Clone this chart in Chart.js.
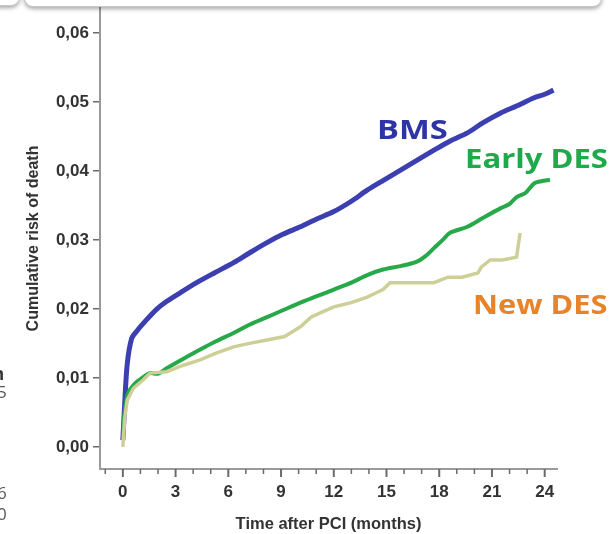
<!DOCTYPE html>
<html>
<head>
<meta charset="utf-8">
<script src="https://cdn.jsdelivr.net/npm/chart.js@4.4.1/dist/chart.umd.min.js"></script>
<style>
  html, body { margin: 0; padding: 0; background: #fff; }
  #wrap { position: relative; width: 615px; height: 534px; overflow: hidden; background: #fff; }
  canvas { position: absolute; left: 0; top: 0; }
  .box { position: absolute; background: #fff; border: 1px solid #c8c8c8; border-radius: 9px; box-shadow: 0 2px 4px rgba(0,0,0,0.35); }
  .lbl { position: absolute; font-family: "Open Sans", sans-serif; font-weight: 700; font-size: 27px; white-space: nowrap; transform-origin: left top; }
  .frag { position: absolute; font-family: "Open Sans", sans-serif; font-size: 17px; color: #555; }
</style>
</head>
<body>
<div id="wrap">
  <canvas id="c" width="615" height="534"></canvas>
  <div class="box" style="left:-40px; top:-30px; width:58px; height:34px;"></div>
  <div class="box" style="left:24px; top:-30px; width:576px; height:35px;"></div>
  <div class="lbl" style="left:377px; top:110px; color:#2e33a6; transform:scaleX(1.21);">BMS</div>
  <div class="lbl" style="left:465px; top:139px; color:#1eaa4b; transform:scaleX(1.15);">Early DES</div>
  <div class="lbl" style="left:473px; top:285px; color:#e8832a; transform:scaleX(1.14);">New DES</div>
  <div class="frag" style="left:-7px; top:362px; font-weight:700; color:#333;">n</div>
  <div class="frag" style="left:-3px; top:380px;">5</div>
  <div class="frag" style="left:-3px; top:481px;">6</div>
  <div class="frag" style="left:-3px; top:502px;">0</div>
</div>
<script>
// ---- data ----
const xTickLabels = [0, 3, 6, 9, 12, 15, 18, 21, 24];
const yTickLabels = ["0,00", "0,01", "0,02", "0,03", "0,04", "0,05", "0,06"];

const bmsMonths = [0, 0.1, 0.25, 0.5, 0.8, 1.2, 1.9, 2.5, 3.3, 4.2, 5.2, 6.3, 7.2, 8.2, 9.1, 10.1, 11.0, 12.0, 13.0, 13.9, 14.8, 15.8, 16.7, 17.7, 18.6, 19.6, 20.5, 21.5, 22.4, 23.4, 24.0, 24.5];
const bmsRisk   = [0.001, 0.006, 0.012, 0.0157, 0.0168, 0.0180, 0.0199, 0.0211, 0.0224, 0.0238, 0.0252, 0.0267, 0.0281, 0.0296, 0.0308, 0.0319, 0.0330, 0.0341, 0.0356, 0.0372, 0.0386, 0.0401, 0.0415, 0.0430, 0.0443, 0.0455, 0.0470, 0.0484, 0.0494, 0.0506, 0.0511, 0.0517];

const earlyMonths = [0, 0.1, 0.3, 0.7, 1.15, 1.55, 2.0, 2.5, 3.4, 4.4, 5.3, 6.3, 7.2, 8.2, 9.1, 10.1, 11.0, 12.0, 13.0, 13.9, 14.8, 15.8, 16.7, 17.2, 17.7, 18.2, 18.6, 19.6, 20.5, 21.5, 22.0, 22.4, 22.9, 23.4, 23.8, 24.3];
const earlyRisk   = [0.001, 0.005, 0.0078, 0.0092, 0.0101, 0.0107, 0.0106, 0.0114, 0.0127, 0.0141, 0.0153, 0.0165, 0.0177, 0.0188, 0.0198, 0.0209, 0.0218, 0.0228, 0.0238, 0.0249, 0.0257, 0.0262, 0.0268, 0.0276, 0.0288, 0.0300, 0.0310, 0.0319, 0.0332, 0.0346, 0.0352, 0.0362, 0.0368, 0.0382, 0.0385, 0.0387];

const newMonths = [0, 0.1, 0.25, 0.6, 1.15, 1.55, 2.5, 3.4, 4.4, 5.3, 6.3, 7.2, 8.2, 9.2, 9.6, 10.1, 10.7, 11.3, 12.0, 13.0, 13.9, 14.3, 14.8, 15.2, 16.0, 17.0, 17.7, 18.1, 18.5, 19.3, 20.2, 20.4, 20.9, 21.6, 22.4, 22.6];
const newRisk   = [0.0, 0.004, 0.0068, 0.0085, 0.0097, 0.0107, 0.0109, 0.0118, 0.0126, 0.0136, 0.0145, 0.0150, 0.0155, 0.0160, 0.0166, 0.0174, 0.0188, 0.0195, 0.0203, 0.0209, 0.0217, 0.0222, 0.0228, 0.0238, 0.0238, 0.0238, 0.0238, 0.0242, 0.0246, 0.0246, 0.0252, 0.0261, 0.0271, 0.0271, 0.0275, 0.0310];

const toPts = (xs, ys) => xs.map((x, i) => ({ x: x, y: ys[i] }));

const tickPlugin = {
  id: 'xTicks',
  afterDraw(chart) {
    const ctx = chart.ctx;
    const xs = chart.scales.x;
    const yBase = chart.chartArea.bottom;
    ctx.save();
    ctx.strokeStyle = '#6a6a6a';
    for (let m = -1; m <= 24; m++) {
      const px = xs.getPixelForValue(m);
      const major = m >= 0 && m % 3 === 0;
      ctx.lineWidth = major ? 2 : 1.5;
      ctx.beginPath();
      ctx.moveTo(px, yBase);
      ctx.lineTo(px, yBase + (major ? 8 : 5));
      ctx.stroke();
    }
    ctx.restore();
  }
};

const FONT = 'Liberation Sans, Arial, sans-serif';

new Chart(document.getElementById('c'), {
  type: 'line',
  data: {
    datasets: [
      { label: 'New DES', data: toPts(newMonths, newRisk), borderColor: '#cdcf97', borderWidth: 3.5, pointRadius: 0, tension: 0, fill: false },
      { label: 'Early DES', data: toPts(earlyMonths, earlyRisk), borderColor: '#27a94a', borderWidth: 4, pointRadius: 0, tension: 0.3, fill: false },
      { label: 'BMS', data: toPts(bmsMonths, bmsRisk), borderColor: '#3c3fb0', borderWidth: 5, pointRadius: 0, tension: 0.3, fill: false }
    ]
  },
  options: {
    responsive: false,
    animation: false,
    layout: { padding: { top: 8, right: 58, left: 0, bottom: 0 } },
    plugins: { legend: { display: false }, tooltip: { enabled: false } },
    scales: {
      x: {
        type: 'linear',
        min: -1.3,
        max: 24.7,
        afterBuildTicks(scale) { scale.ticks = xTickLabels.map(v => ({ value: v })); },
        afterFit(scale) { scale.height = 65; },
        border: { display: true, color: '#9a9a9a', width: 2 },
        grid: { display: true, drawOnChartArea: false, drawTicks: true, tickLength: 8, color: 'rgba(0,0,0,0)' },
        ticks: {
          padding: 5,
          maxRotation: 0,
          autoSkip: false,
          color: '#333',
          font: { family: FONT, size: 17, weight: 'bold' },
          callback: (v) => String(v)
        },
        title: {
          display: true,
          text: 'Time after PCI (months)',
          color: '#333',
          padding: { top: 1, bottom: 0 },
          font: { family: FONT, size: 16.5, weight: 'bold' }
        }
      },
      y: {
        type: 'linear',
        min: -0.0032,
        max: 0.0636,
        afterBuildTicks(scale) { scale.ticks = yTickLabels.map((t, i) => ({ value: i * 0.01 })); },
        afterFit(scale) { scale.width = 100; scale.paddingTop = 0; scale.paddingBottom = 0; },
        border: { display: true, color: '#9a9a9a', width: 2 },
        grid: { display: true, drawOnChartArea: false, drawTicks: true, tickLength: 7, color: '#6a6a6a', lineWidth: 1.5 },
        ticks: {
          padding: 4,
          color: '#333',
          font: { family: FONT, size: 17, weight: 'bold' },
          callback: (v) => { const i = Math.round(v / 0.01); return yTickLabels[i] !== undefined ? yTickLabels[i] : ''; }
        },
        title: {
          display: true,
          text: 'Cumulative risk of death',
          color: '#333',
          padding: { top: 24, bottom: 0 },
          font: { family: FONT, size: 16, weight: 'bold' }
        }
      }
    }
  },
  plugins: [tickPlugin]
});
</script>
</body>
</html>
